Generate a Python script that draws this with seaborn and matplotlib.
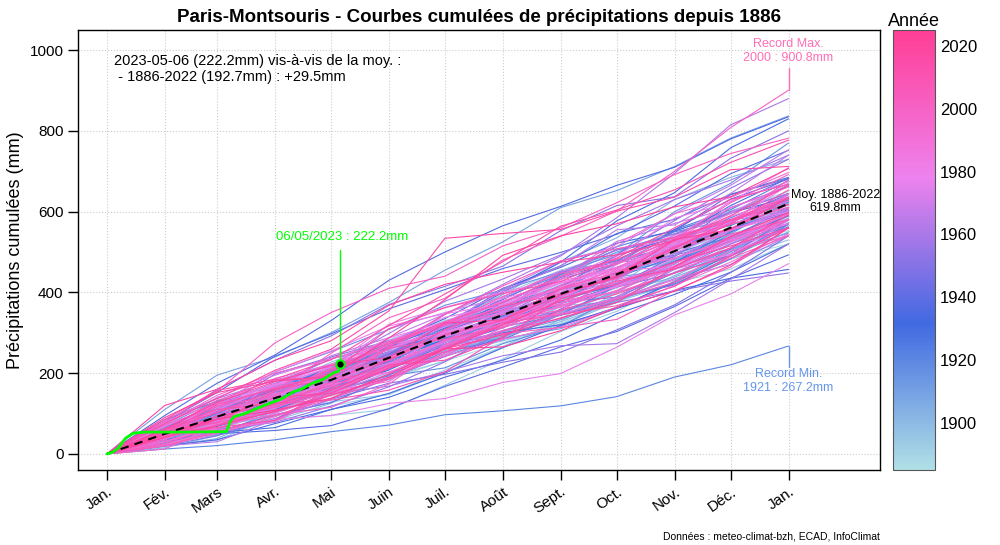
import numpy as np
import pandas as pd
import matplotlib
matplotlib.use("Agg")
import matplotlib.pyplot as plt
from matplotlib.colors import LinearSegmentedColormap, Normalize
from matplotlib.cm import ScalarMappable
import seaborn as sns

# years 1886-2022, one row of monthly totals (mm) per year
years = list(range(1886, 2023))
month_days = [0, 31, 59, 90, 120, 151, 181, 212, 243, 273, 304, 334, 365]
month_labels = ["Jan.", "Fév.", "Mars", "Avr.", "Mai", "Juin", "Juil.",
                "Août", "Sept.", "Oct.", "Nov.", "Déc.", "Jan."]

monthly_mm = [
    [62, 48, 35, 40, 70, 38, 45, 30, 42, 85, 60, 58],   # 1886
    [45, 30, 38, 30, 42, 45, 45, 48, 55, 56, 50, 36],
    [35, 40, 60, 42, 30, 75, 88, 50, 20, 45, 38, 30],
    [45, 38, 50, 42, 70, 55, 60, 48, 25, 70, 40, 52],
    [28, 30, 50, 40, 52, 48, 50, 55, 30, 40, 35, 62],   # 1890
    [50, 5, 42, 30, 75, 60, 70, 50, 38, 55, 48, 62],
    [38, 35, 20, 25, 30, 60, 58, 62, 70, 88, 40, 35],
    [30, 45, 12, 8, 15, 60, 65, 68, 50, 75, 80, 52],
    [55, 48, 40, 52, 45, 70, 85, 60, 42, 55, 50, 48],
    [48, 15, 52, 45, 30, 40, 72, 65, 10, 62, 80, 70],
    [22, 12, 60, 35, 18, 55, 62, 70, 85, 90, 42, 60],
    [40, 50, 75, 62, 55, 48, 42, 70, 65, 30, 28, 60],
    [15, 30, 38, 42, 65, 52, 50, 35, 50, 45, 60, 48],
    [42, 30, 40, 55, 48, 30, 35, 40, 55, 67, 60, 38],
    [60, 70, 30, 45, 40, 55, 30, 52, 40, 60, 75, 65],   # 1900
    [35, 25, 58, 45, 20, 62, 50, 70, 48, 52, 38, 70],
    [30, 42, 48, 38, 75, 55, 45, 65, 40, 58, 35, 60],
    [40, 45, 55, 62, 48, 70, 75, 80, 60, 95, 55, 45],
    [55, 62, 35, 30, 45, 25, 40, 58, 50, 38, 52, 60],
    [18, 20, 65, 48, 60, 45, 30, 62, 55, 70, 68, 40],
    [60, 48, 52, 25, 58, 35, 45, 30, 50, 62, 70, 55],
    [35, 40, 50, 45, 65, 70, 55, 48, 12, 60, 58, 62],
    [40, 30, 55, 60, 50, 45, 62, 58, 38, 20, 48, 55],
    [25, 22, 60, 58, 45, 75, 65, 40, 52, 62, 48, 70],
    [110, 85, 45, 60, 75, 80, 70, 85, 42, 60, 70, 55],  # 1910
    [55, 35, 45, 65, 40, 30, 15, 25, 50, 68, 72, 80],
    [48, 52, 70, 20, 42, 58, 55, 95, 60, 45, 50, 72],
    [42, 18, 62, 55, 50, 40, 30, 35, 48, 70, 52, 45],
    [28, 55, 70, 30, 62, 75, 48, 40, 35, 40, 65, 95],
    [70, 62, 35, 38, 45, 20, 70, 45, 30, 55, 75, 80],
    [65, 58, 80, 50, 55, 60, 38, 45, 42, 107, 70, 100],
    [40, 30, 45, 62, 38, 55, 80, 95, 35, 70, 30, 38],
    [55, 25, 30, 48, 35, 20, 60, 42, 75, 58, 45, 70],
    [68, 40, 62, 35, 28, 30, 52, 28, 40, 38, 62, 85],
    [50, 20, 35, 65, 52, 48, 70, 38, 45, 54, 55, 58],   # 1920
    [12.0, 8.5, 14.3, 20.1, 16.4, 25.6, 9.8, 12.2, 22.8, 48.6, 30.2, 46.7],
    [55, 48, 70, 62, 40, 35, 75, 60, 68, 42, 50, 72],
    [45, 55, 30, 58, 75, 30, 35, 62, 50, 80, 65, 58],
    [30, 20, 35, 70, 88, 65, 58, 50, 75, 45, 30, 62],
    [62, 48, 35, 52, 70, 20, 42, 65, 48, 55, 40, 70],
    [40, 55, 25, 60, 70, 62, 50, 45, 30, 52, 88, 48],
    [38, 45, 60, 48, 55, 72, 90, 58, 80, 35, 62, 42],
    [72, 30, 42, 38, 48, 55, 40, 62, 30, 58, 75, 60],
    [35, 18, 12, 45, 40, 50, 63, 55, 45, 62, 70, 85],
    [60, 52, 45, 48, 65, 50, 80, 75, 102, 70, 111, 72],  # 1930
    [48, 42, 55, 62, 70, 58, 75, 52, 60, 30, 45, 38],
    [58, 10, 40, 60, 75, 38, 62, 42, 55, 70, 48, 45],
    [42, 48, 38, 25, 55, 62, 30, 20, 40, 45, 30, 22],
    [20, 15, 40, 35, 30, 50, 42, 50, 65, 48, 55, 70],
    [62, 55, 30, 72, 45, 60, 28, 40, 55, 88, 80, 68],
    [95, 80, 70, 85, 100, 70, 65, 48, 52, 45, 70, 55],
    [80, 72, 90, 55, 62, 48, 52, 40, 45, 70, 80, 58],
    [35, 15, 8, 12, 42, 55, 48, 50, 38, 62, 70, 58],
    [70, 48, 42, 55, 48, 40, 72, 58, 38, 85, 75, 50],
    [42, 65, 35, 60, 58, 45, 70, 62, 40, 75, 90, 40],   # 1940
    [55, 48, 58, 42, 65, 52, 62, 70, 25, 38, 42, 40],
    [35, 20, 42, 30, 62, 52, 48, 70, 57, 60, 52, 62],
    [60, 30, 40, 35, 50, 55, 42, 60, 45, 48, 65, 40],
    [40, 45, 30, 38, 42, 58, 30, 62, 70, 75, 85, 55],
    [52, 60, 25, 46, 45, 40, 55, 50, 40, 35, 60, 62],
    [35, 62, 30, 45, 70, 62, 48, 95, 58, 25, 48, 55],
    [70, 38, 90, 42, 40, 38, 30, 28, 12, 30, 72, 80],
    [85, 45, 20, 35, 62, 58, 52, 60, 45, 30, 35, 55],
    [20, 25, 42, 48, 40, 22, 30, 25, 55, 62, 80, 91],
    [30, 62, 40, 38, 55, 52, 58, 72, 68, 40, 95, 52],   # 1950
    [75, 85, 72, 60, 78, 45, 50, 88, 62, 22, 95, 68],
    [60, 30, 55, 68, 40, 42, 50, 70, 78, 85, 80, 72],
    [25, 35, 18, 40, 48, 62, 75, 42, 30, 28, 25, 20],
    [38, 52, 48, 22, 55, 68, 70, 62, 55, 72, 58, 45],
    [58, 48, 32, 20, 62, 60, 40, 35, 30, 72, 63, 50],
    [62, 15, 40, 55, 38, 68, 80, 92, 55, 40, 52, 48],
    [42, 70, 48, 15, 45, 55, 62, 70, 65, 38, 45, 50],
    [55, 70, 50, 45, 78, 80, 55, 60, 72, 65, 48, 62],
    [48, 8, 30, 62, 20, 35, 40, 25, 5, 77, 82, 88],
    [85, 52, 45, 40, 35, 88, 75, 70, 95, 110, 120, 65],  # 1960
    [70, 48, 10, 60, 55, 52, 38, 55, 42, 85, 58, 70],
    [55, 30, 68, 48, 42, 18, 45, 40, 38, 50, 35, 71],
    [20, 10, 55, 50, 62, 68, 58, 72, 55, 40, 88, 25],
    [22, 35, 62, 48, 45, 60, 30, 42, 45, 76, 55, 60],
    [62, 18, 38, 75, 58, 72, 80, 62, 90, 12, 78, 95],
    [48, 75, 40, 80, 45, 58, 62, 70, 35, 82, 70, 88],
    [35, 62, 48, 30, 88, 35, 40, 48, 60, 78, 55, 52],
    [58, 50, 35, 48, 70, 55, 60, 62, 88, 45, 38, 52],
    [52, 60, 55, 48, 95, 40, 38, 65, 22, 8, 70, 55],
    [72, 68, 55, 42, 20, 58, 35, 50, 32, 30, 75, 45],   # 1970
    [45, 30, 40, 38, 62, 90, 55, 45, 15, 42, 48, 50],
    [38, 40, 35, 55, 48, 62, 70, 42, 55, 52, 58, 45],
    [30, 35, 35, 48, 55, 42, 80, 40, 52, 40, 38, 65],
    [68, 55, 42, 20, 40, 52, 45, 62, 85, 65, 92, 48],
    [62, 20, 58, 45, 55, 50, 38, 72, 62, 50, 58, 30],
    [25, 28, 32, 10, 30, 12, 40, 22, 65, 80, 52, 75],
    [55, 72, 45, 48, 58, 60, 30, 55, 35, 48, 70, 62],
    [60, 48, 62, 45, 72, 40, 58, 38, 30, 12, 28, 85],
    [55, 68, 80, 52, 62, 30, 25, 52, 35, 58, 60, 88],
    [40, 48, 62, 22, 30, 62, 58, 45, 48, 70, 45, 52],   # 1980
    [42, 30, 110, 35, 62, 45, 55, 30, 80, 95, 40, 85],
    [60, 22, 55, 20, 58, 85, 52, 62, 40, 72, 70, 75],
    [48, 35, 58, 75, 105, 42, 38, 30, 62, 48, 35, 50],
    [70, 48, 55, 10, 80, 40, 30, 50, 75, 62, 68, 48],
    [45, 30, 50, 48, 62, 58, 40, 52, 40, 47, 58, 40],
    [62, 25, 55, 60, 68, 30, 28, 45, 40, 48, 65, 70],
    [30, 42, 58, 45, 62, 70, 62, 40, 35, 88, 48, 30],
    [80, 45, 62, 35, 55, 42, 60, 48, 35, 62, 30, 40],
    [22, 40, 58, 62, 20, 40, 42, 30, 48, 55, 58, 70],
    [35, 75, 15, 42, 55, 60, 53, 28, 42, 68, 52, 55],   # 1990
    [40, 30, 52, 35, 22, 90, 62, 15, 40, 45, 72, 38],
    [20, 30, 42, 55, 38, 85, 60, 75, 55, 70, 80, 52],
    [48, 10, 22, 68, 40, 55, 70, 38, 95, 82, 28, 88],
    [72, 45, 30, 62, 70, 40, 45, 68, 88, 75, 40, 62],
    [75, 70, 55, 35, 42, 48, 20, 25, 85, 30, 48, 62],
    [30, 42, 35, 50, 62, 62, 32, 55, 35, 62, 75, 40],
    [12, 60, 25, 18, 58, 95, 52, 60, 20, 48, 62, 70],
    [48, 15, 48, 90, 30, 62, 38, 25, 88, 70, 55, 42],
    [55, 48, 42, 62, 60, 58, 30, 62, 58, 55, 40, 110],
    [35.2, 58.6, 62.4, 92.8, 88.0, 48.3, 95.1, 58.7, 62.5, 98.4, 108.2, 92.6],  # 2000
    [80, 75, 120, 75, 60, 30, 75, 45, 62, 70, 52, 38],
    [42, 75, 48, 30, 80, 45, 70, 58, 22, 62, 90, 70],
    [58, 20, 25, 48, 62, 40, 45, 15, 20, 72, 58, 97],
    [62, 22, 38, 55, 40, 42, 60, 90, 25, 80, 30, 35],
    [20, 35, 40, 42, 48, 65, 55, 30, 48, 42, 60, 55],
    [25, 45, 58, 42, 92, 22, 30, 78, 50, 62, 55, 58],
    [60, 72, 52, 5, 75, 82, 70, 62, 30, 28, 45, 55],
    [55, 22, 78, 55, 62, 55, 48, 65, 42, 55, 40, 55],
    [48, 38, 30, 42, 55, 50, 62, 20, 22, 48, 75, 70],
    [52, 70, 40, 22, 50, 62, 35, 80, 38, 60, 70, 40],   # 2010
    [62, 48, 15, 8, 25, 45, 88, 65, 40, 52, 42, 70],
    [55, 10, 18, 80, 70, 75, 58, 30, 40, 75, 58, 85],
    [60, 42, 58, 40, 110, 52, 35, 30, 58, 75, 70, 38],
    [85, 72, 28, 48, 85, 78, 80, 88, 40, 50, 68, 55],
    [48, 45, 30, 35, 62, 12, 55, 98, 35, 55, 40, 45],
    [75, 62, 70, 52, 95, 180, 12, 10, 45, 35, 68, 8],
    [40, 45, 55, 10, 62, 48, 60, 58, 50, 30, 52, 82],
    [120, 40, 72, 48, 88, 52, 30, 25, 18, 35, 62, 75],
    [42, 28, 35, 40, 45, 70, 35, 42, 38, 88, 75, 60],
    [62, 65, 52, 40, 20, 85, 8, 62, 45, 92, 25, 78],    # 2020
    [90, 62, 28, 12, 95, 95, 110, 48, 30, 42, 25, 70],
    [48, 38, 22, 30, 60, 62, 5, 40, 58, 40, 65, 92],
]

# 2023 so far (day of year, cumulative mm)
y2023_day = [0, 3, 6, 10, 14, 20, 40, 64, 66, 68, 74, 80, 87, 93, 100, 104, 110, 116, 121, 124, 125]
y2023_mm = [0, 4, 14, 39, 51, 54, 54, 55, 80, 92, 100, 112, 125, 135, 154, 160, 175, 185, 200, 205, 222.2]

rows = []
for yr, mm in zip(years, monthly_mm):
    cum = np.concatenate([[0.0], np.cumsum(mm)])
    for d, c in zip(month_days, cum):
        rows.append((yr, d, c))
df = pd.DataFrame(rows, columns=["annee", "jour", "cumul"])
mean_curve = df.groupby("jour")["cumul"].mean()

sns.set_style("white")
plt.rcParams["font.family"] = ["Liberation Sans", "DejaVu Sans"]
for k in ["text.color", "axes.labelcolor", "xtick.color", "ytick.color"]:
    plt.rcParams[k] = "black"

cmap = LinearSegmentedColormap.from_list(
    "annees", ["#B0E0E6", "#4169E1", "#EE82EE", "#FF3E96"])
norm = Normalize(1885, 2025)

fig = plt.figure(figsize=(10, 5.45), dpi=100)
ax = fig.add_axes([0.078, 0.1376, 0.802, 0.807])

sns.lineplot(data=df, x="jour", y="cumul", hue="annee", units="annee",
             estimator=None, palette=cmap, hue_norm=norm, legend=False,
             lw=0.8, ax=ax)

ax.plot(mean_curve.index, mean_curve.values, color="black", lw=1.5,
        dashes=(4, 3))

# 2023
green = "#00FF00"
ax.plot(y2023_day, y2023_mm, color=green, lw=2, zorder=5)
ax.plot([125, 125], [222.2, 505], color=green, lw=1, zorder=5)
ax.plot(125, 222.2, "o", mfc="black", mec=green, mew=1.5, ms=6, zorder=6)
ax.text(126, 537, "06/05/2023 : 222.2mm", color=green, ha="center",
        va="center", fontsize=9.5)

# records
ax.plot([365, 365], [900.8, 955], color="#FF6EB4", lw=1)
ax.text(365, 998, "Record Max.\n2000 : 900.8mm", color="#FF6EB4",
        ha="center", va="center", fontsize=9)
ax.plot([365, 365], [267.2, 215], color="#6495ED", lw=1)
ax.text(365, 180, "Record Min.\n1921 : 267.2mm", color="#6495ED",
        ha="center", va="center", fontsize=9)
ax.text(390, 625, "Moy. 1886-2022\n619.8mm", color="black",
        ha="center", va="center", fontsize=9)

ax.text(4, 954, "2023-05-06 (222.2mm) vis-à-vis de la moy. :\n"
        " - 1886-2022 (192.7mm) : +29.5mm", ha="left", va="center",
        fontsize=10.5)

ax.set_xlim(-15.5, 414)
ax.set_ylim(-40, 1049.5)
ax.set_xticks(month_days)
ax.set_xticklabels(month_labels, rotation=35, ha="right",
                   rotation_mode="anchor")
ax.set_yticks(range(0, 1001, 200))
ax.tick_params(direction="out", length=7, width=1, labelsize=11,
               color="black", bottom=True, left=True)
ax.grid(True, linestyle=":", color="#CCCCCC", lw=0.8)
ax.set_axisbelow(True)
ax.set_xlabel("")
ax.set_ylabel("Précipitations cumulées (mm)", fontsize=13)
for s in ax.spines.values():
    s.set_color("black")
    s.set_linewidth(1)

fig.text(0.479, 0.967, "Paris-Montsouris - Courbes cumulées de précipitations depuis 1886",
         ha="center", va="center", fontsize=13.5, fontweight="bold")
fig.text(0.88, 0.016, "Données : meteo-climat-bzh, ECAD, InfoClimat",
         ha="right", va="center", fontsize=7.5)

cax = fig.add_axes([0.893, 0.1376, 0.042, 0.807])
cb = fig.colorbar(ScalarMappable(norm=norm, cmap=cmap), cax=cax)
cb.set_ticks(list(range(1900, 2021, 20)))
cax.set_ylim(1885, 2025)
cax.tick_params(direction="in", length=6, width=1, labelsize=12,
                color="black", right=True, left=False)
cb.outline.set_edgecolor("#555555")
cax.set_title("Année", fontsize=13, pad=1)

fig.savefig("out.png", dpi=100)
